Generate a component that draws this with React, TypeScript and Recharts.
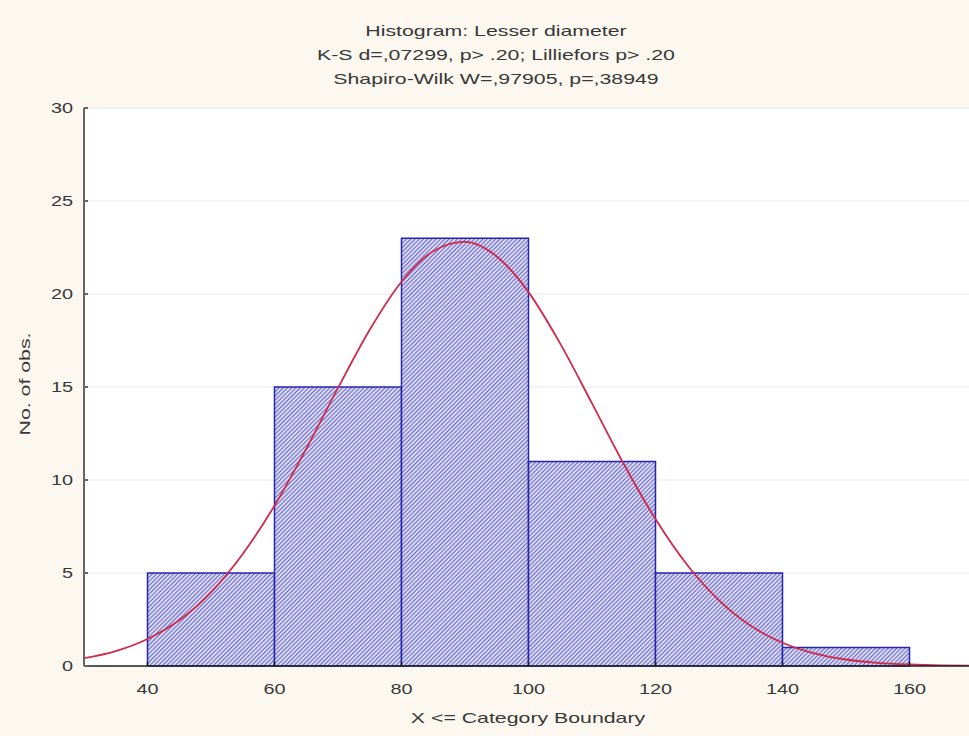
import React from 'react';
import { ComposedChart, Line, XAxis, YAxis, CartesianGrid, Label, ReferenceArea } from 'recharts';

// histogram bins: lower/upper boundaries (width 20) and their counts
const binLower = [40, 60, 80, 100, 120, 140];
const binUpper = [60, 80, 100, 120, 140, 160];
const binCounts = [5, 15, 23, 11, 5, 1];

// fitted normal curve, expected count per bin
const fitX = [30, 35, 40, 45, 50, 55, 60, 65, 70, 75, 80, 85, 90, 95, 100, 105, 110, 115, 120, 125, 130, 135, 140, 145, 150, 155, 160, 165, 170];
const fitY = [0.42, 0.8, 1.45, 2.46, 3.96, 6.02, 8.62, 11.68, 14.95, 18.08, 20.66, 22.3, 22.8, 22.02, 20.1, 17.33, 14.12, 10.86, 7.9, 5.43, 3.53, 2.16, 1.25, 0.68, 0.35, 0.17, 0.08, 0.03, 0.01];

const xTicks = [40, 60, 80, 100, 120, 140, 160];
const yTicks = [0, 5, 10, 15, 20, 25, 30];

const titleLines = [
  'Histogram: Lesser diameter',
  'K-S d=,07299, p> .20; Lilliefors p> .20',
  'Shapiro-Wilk W=,97905, p=,38949',
];

const fit = fitX.map((x, i) => ({ x, fit: fitY[i] }));

// Statistica draws its text wide, so stretch each label along its baseline
const STRETCH = 1.42;
const FONT = "'Liberation Sans', Arial, sans-serif";
const INK = '#383838';

function WideText({ x, y, anchor = 'middle', size = 14, rotate = 0, children }: any) {
  return (
    <text
      transform={`translate(${x} ${y}) rotate(${rotate}) scale(${STRETCH} 1)`}
      textAnchor={anchor}
      fontSize={size}
      fontFamily={FONT}
      fill={INK}
    >
      {children}
    </text>
  );
}

const XTick = (p: any) => (
  <WideText x={p.x} y={p.y + 28}>{p.payload.value}</WideText>
);
const YTick = (p: any) => (
  <WideText x={p.x - 11} y={p.y + 5} anchor="end">{p.payload.value}</WideText>
);
const NoTick = () => <g />;

export default function App() {
  return (
    <div
      style={{
        position: 'absolute',
        left: 0,
        top: 0,
        width: 969,
        height: 736,
        overflow: 'hidden',
        background: '#fcf8f0',
      }}
    >
      <ComposedChart
        width={975}
        height={736}
        data={fit}
        margin={{ top: 108, right: 2, bottom: 0, left: 0 }}
      >
        <defs>
          <pattern id="hatch" width="3" height="3" patternUnits="userSpaceOnUse" patternTransform="rotate(45)">
            <rect width="3" height="3" fill="#d8d8f2" />
            <line x1="0" y1="0" x2="0" y2="3" stroke="#3c3cb0" strokeWidth="1.4" />
          </pattern>
        </defs>
        <CartesianGrid vertical={false} stroke="#e8e8e8" fill="#ffffff" />
        <XAxis
          dataKey="x"
          type="number"
          domain={[30, 170]}
          ticks={xTicks}
          height={70}
          tickSize={-4}
          tickMargin={4}
          tick={XTick}
          stroke="#222"
          strokeWidth={1.5}
          allowDataOverflow
        >
          <Label
            content={() => (
              <WideText x={528} y={723} size={15}>X &lt;= Category Boundary</WideText>
            )}
          />
        </XAxis>
        <XAxis
          xAxisId="top"
          orientation="top"
          type="number"
          domain={[30, 170]}
          ticks={xTicks}
          height={0}
          tickSize={-4}
          tick={NoTick}
          stroke="#555"
          strokeWidth={2}
          allowDataOverflow
        />
        <YAxis
          type="number"
          domain={[0, 30]}
          ticks={yTicks}
          width={84}
          tickSize={-4}
          tickMargin={4}
          tick={YTick}
          stroke="#666"
          strokeWidth={2}
          allowDataOverflow
        >
          <Label
            content={() => (
              <WideText x={30} y={384} size={15} rotate={-90}>No. of obs.</WideText>
            )}
          />
        </YAxis>
        {binCounts.map((c, i) => (
          <ReferenceArea
            key={i}
            x1={binLower[i]}
            x2={binUpper[i]}
            y1={0}
            y2={c}
            fill="url(#hatch)"
            fillOpacity={1}
            stroke="#2424b0"
            strokeWidth={1.5}
          />
        ))}
        <Line
          dataKey="fit"
          type="monotone"
          stroke="#cf2a4c"
          strokeWidth={1.8}
          dot={false}
          activeDot={false}
          isAnimationActive={false}
        />
        {titleLines.map((t, i) => (
          <WideText key={i} x={496} y={36 + i * 24} size={15}>{t}</WideText>
        ))}
      </ComposedChart>
    </div>
  );
}
